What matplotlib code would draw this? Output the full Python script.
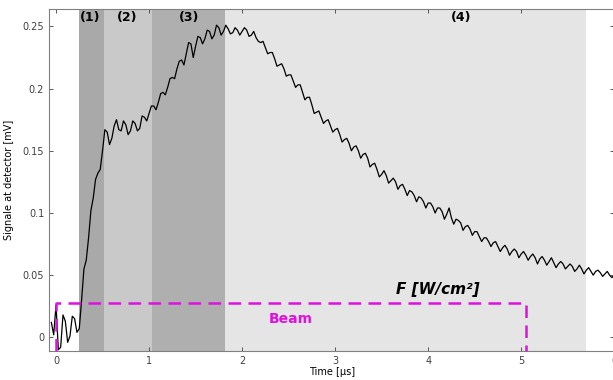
import numpy as np
import matplotlib.pyplot as plt

# time grid of the detector trace [us]
time = np.linspace(-0.05, 6.0, 243)

# signal at detector [mV]
signal = [
    0.012, 0.002, 0.026, -0.010, -0.008, 0.018, 0.013, -0.004, 0.001, 0.017,
    0.015, 0.004, 0.007, 0.030, 0.055, 0.062, 0.080, 0.102, 0.112, 0.127,
    0.132, 0.135, 0.150, 0.167, 0.165, 0.155, 0.160, 0.170, 0.175, 0.167,
    0.166, 0.174, 0.171, 0.163, 0.166, 0.174, 0.172, 0.166, 0.168, 0.178,
    0.177, 0.174, 0.180, 0.186, 0.186, 0.183, 0.189, 0.196, 0.197, 0.195,
    0.201, 0.208, 0.209, 0.208, 0.216, 0.222, 0.223, 0.219, 0.228, 0.237,
    0.236, 0.225, 0.234, 0.242, 0.241, 0.236, 0.240, 0.247, 0.246, 0.240,
    0.243, 0.251, 0.249, 0.243, 0.246, 0.251, 0.248, 0.244, 0.245, 0.249,
    0.247, 0.243, 0.246, 0.249, 0.247, 0.242, 0.243, 0.246, 0.241, 0.238,
    0.237, 0.238, 0.233, 0.228, 0.229, 0.229, 0.224, 0.218, 0.219, 0.220,
    0.216, 0.210, 0.211, 0.211, 0.206, 0.201, 0.203, 0.203, 0.197, 0.191,
    0.193, 0.193, 0.187, 0.180, 0.181, 0.182, 0.177, 0.172, 0.174, 0.175,
    0.170, 0.165, 0.167, 0.168, 0.163, 0.157, 0.159, 0.160, 0.156, 0.150,
    0.153, 0.154, 0.150, 0.144, 0.147, 0.148, 0.144, 0.137, 0.139, 0.140,
    0.135, 0.129, 0.131, 0.134, 0.130, 0.124, 0.126, 0.128, 0.125, 0.119,
    0.122, 0.123, 0.119, 0.114, 0.118, 0.117, 0.114, 0.109, 0.113, 0.112,
    0.109, 0.104, 0.108, 0.108, 0.105, 0.100, 0.104, 0.104, 0.101, 0.095,
    0.099, 0.104, 0.096, 0.091, 0.095, 0.094, 0.092, 0.086, 0.089, 0.090,
    0.087, 0.082, 0.085, 0.085, 0.081, 0.077, 0.080, 0.080, 0.077, 0.073,
    0.076, 0.077, 0.073, 0.069, 0.072, 0.074, 0.071, 0.066, 0.069, 0.071,
    0.069, 0.064, 0.067, 0.069, 0.066, 0.062, 0.065, 0.067, 0.064, 0.059,
    0.063, 0.065, 0.062, 0.058, 0.061, 0.064, 0.060, 0.056, 0.059, 0.061,
    0.059, 0.055, 0.057, 0.059, 0.057, 0.053, 0.055, 0.058, 0.055, 0.051,
    0.054, 0.056, 0.053, 0.050, 0.053, 0.054, 0.052, 0.049, 0.051, 0.053,
    0.050, 0.048, 0.050,
]

# phases (1)-(4): start, end, grey level
phase_labels = ["(1)", "(2)", "(3)", "(4)"]
phase_start = [0.25, 0.52, 1.03, 1.82]
phase_end = [0.52, 1.03, 1.82, 5.70]
phase_color = ["#a9a9a9", "#c9c9c9", "#afafaf", "#e5e5e5"]
phase_label_x = [0.37, 0.76, 1.43, 4.35]

# beam pulse window
beam_start = 0.0
beam_end = 5.05
beam_level = 0.028

ymin, ymax = -0.011, 0.264

fig = plt.figure(figsize=(6.13, 3.8), dpi=100)
ax = fig.add_axes([0.080, 0.0763, 0.922, 0.9])

for s, e, c in zip(phase_start, phase_end, phase_color):
    ax.axvspan(s, e, color=c, lw=0, zorder=0)
for lab, x in zip(phase_labels, phase_label_x):
    ax.text(x, 0.2575, lab, ha="center", va="center", fontsize=9, fontweight="bold")

ax.plot(time, signal, color="black", lw=0.9, zorder=3)

ax.plot([beam_start, beam_start, beam_end, beam_end], [ymin, beam_level, beam_level, ymin],
        color="#e010e0", lw=1.8, ls=(0, (5, 3)), zorder=4, clip_on=False)
ax.text(2.52, 0.015, "Beam", color="#e010e0", fontsize=10, fontweight="bold",
        ha="center", va="center")
ax.text(4.10, 0.0385, "F [W/cm²]", fontsize=11, fontweight="bold", style="italic",
        ha="center", va="center")

ax.set_xlim(-0.075, 6.0)
ax.set_ylim(ymin, ymax)
ax.set_xticks(range(7))
ax.set_yticks([0, 0.05, 0.1, 0.15, 0.2, 0.25])
ax.set_yticklabels(["0", "0.05", "0.1", "0.15", "0.2", "0.25"])
ax.tick_params(direction="in", length=3, top=True, right=True, labelsize=7,
               colors="#404040", width=0.6)
for sp in ax.spines.values():
    sp.set_color("#808080")
    sp.set_linewidth(0.8)

ax.set_xlabel("Time [µs]", fontsize=7, labelpad=1)
ax.set_ylabel("Signale at detector [mV]", fontsize=7, labelpad=6)

fig.savefig("out.png", dpi=100)
